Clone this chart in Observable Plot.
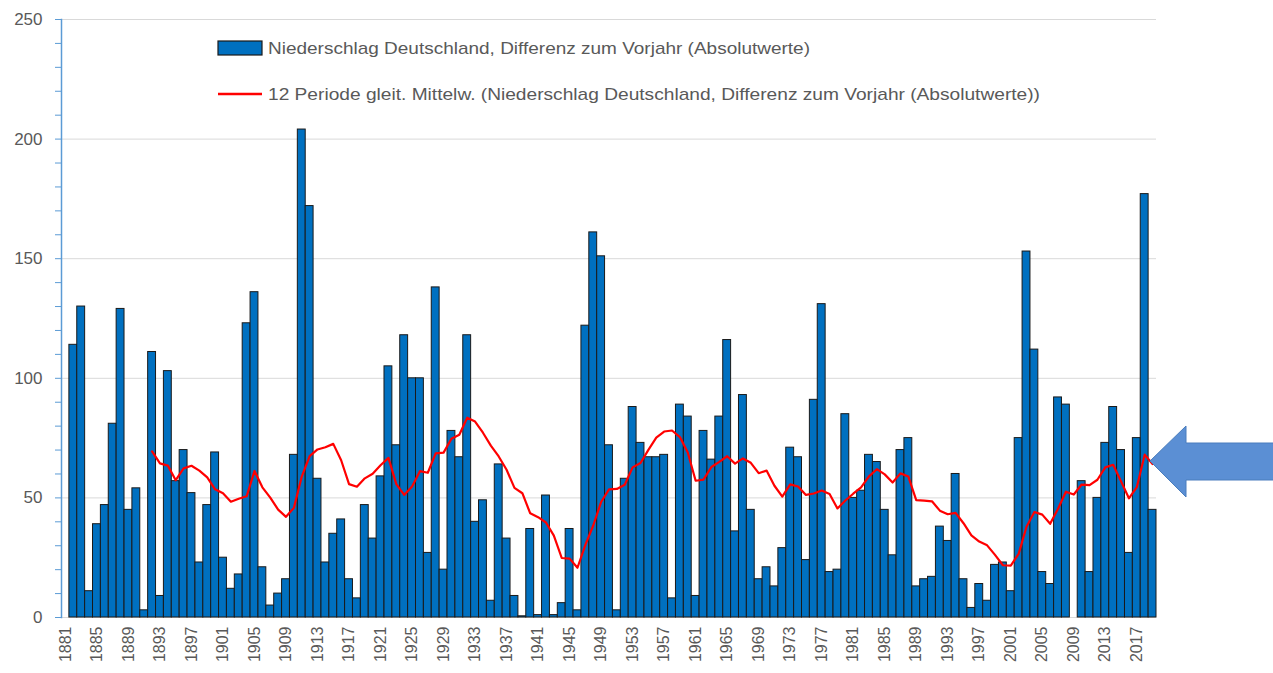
<!DOCTYPE html>
<html>
<head>
<meta charset="utf-8">
<script src="https://cdn.jsdelivr.net/npm/d3@7"></script>
<script src="https://cdn.jsdelivr.net/npm/@observablehq/plot@0.6"></script>
<style>
  html, body { margin: 0; padding: 0; background: #fff; }
  #wrap { position: relative; width: 1273px; height: 673px; overflow: hidden; }
  #overlay { position: absolute; left: 0; top: 0; pointer-events: none; }
</style>
</head>
<body>
<div id="wrap"></div>
<script>
// ---- data ----
const years = d3.range(1881, 2020);
// Niederschlag Deutschland, Differenz zum Vorjahr (Absolutwerte); 1881 has no previous year
const diffs = [null,
  114, 130, 11, 39, 47, 81, 129, 45, 54, 3,
  111, 9, 103, 57, 70, 52, 23, 47, 69, 25,
  12, 18, 123, 136, 21, 5, 10, 16, 68, 204,
  172, 58, 23, 35, 41, 16, 8, 47, 33, 59,
  105, 72, 118, 100, 100, 27, 138, 20, 78, 67,
  118, 40, 49, 7, 64, 33, 9, 0.5, 37, 1,
  51, 1, 6, 37, 3, 122, 161, 151, 72, 3,
  58, 88, 73, 67, 67, 68, 8, 89, 84, 9,
  78, 66, 84, 116, 36, 93, 45, 16, 21, 13,
  29, 71, 67, 24, 91, 131, 19, 20, 85, 50,
  53, 68, 65, 45, 26, 70, 75, 13, 16, 17,
  38, 32, 60, 16, 4, 14, 7, 22, 23, 11,
  75, 153, 112, 19, 14, 92, 89, 0, 57, 19,
  50, 73, 88, 70, 27, 75, 177, 45];
const maPeriod = 12;
const xTickYears = years.filter(y => (y - 1881) % 4 === 0);
const yGridTicks = [0, 50, 100, 150, 200, 250];
const yMinorTicks = d3.range(0, 251, 10);
const legendBars = "Niederschlag Deutschland, Differenz zum Vorjahr (Absolutwerte)";
const legendLine = "12 Periode gleit. Mittelw. (Niederschlag Deutschland, Differenz zum Vorjahr (Absolutwerte))";

// ---- derived table ----
const rows = years.map((year, i) => ({year, value: diffs[i]}));
const maRows = years.map((year, i) => ({
  year,
  ma: i < maPeriod - 1 ? null : d3.mean(diffs.slice(i - maPeriod + 1, i + 1))
})).filter(d => d.ma != null);

const chart = Plot.plot({
  width: 1273,
  height: 673,
  marginLeft: 61,
  marginRight: 117,
  marginTop: 19,
  marginBottom: 56,
  style: {fontFamily: "'Liberation Sans', Arial, sans-serif", background: "#fff"},
  x: {type: "band", domain: years, padding: 0},
  y: {domain: [0, 250]},
  marks: [
    Plot.gridY(yGridTicks, {stroke: "#d9d9d9", strokeOpacity: 1, strokeWidth: 1}),
    Plot.barY(rows.filter(d => d.value != null), {
      x: "year", y: "value", fill: "#0070C0", stroke: "#1a1a1a", strokeWidth: 1
    }),
    Plot.lineY(maRows, {x: "year", y: "ma", stroke: "#ff0000", strokeWidth: 2.2}),
    Plot.frame({anchor: "left", stroke: "#5B9BD5", strokeWidth: 1.5}),
    Plot.axisY({ticks: yMinorTicks, tickSize: 6, stroke: "#5B9BD5", tickFormat: () => "", label: null}),
    Plot.axisY({ticks: yGridTicks, tickSize: 0, tickPadding: 19, fontSize: 17, fill: "#595959", label: null}),
    Plot.axisX({ticks: xTickYears, tickFormat: d => String(d), tickSize: 0, tickPadding: 9, tickRotate: -90, fontSize: 16, fill: "#595959", label: null})
  ]
});
document.getElementById("wrap").appendChild(chart);

// ---- legend + arrow annotation overlay ----
const ns = "http://www.w3.org/2000/svg";
const ov = document.createElementNS(ns, "svg");
ov.setAttribute("id", "overlay");
ov.setAttribute("width", 1273);
ov.setAttribute("height", 673);
ov.innerHTML = `
  <rect x="218" y="41" width="44" height="14" fill="#0070C0" stroke="#1a1a1a" stroke-width="1.2"/>
  <text x="268" y="48" dominant-baseline="central" font-family="'Liberation Sans Narrow', 'Liberation Sans', sans-serif" font-size="17" fill="#595959" textLength="542" lengthAdjust="spacingAndGlyphs">${legendBars}</text>
  <line x1="218" x2="262" y1="94" y2="94" stroke="#ff0000" stroke-width="2.5"/>
  <text x="268" y="94" dominant-baseline="central" font-family="'Liberation Sans Narrow', 'Liberation Sans', sans-serif" font-size="17" fill="#595959" textLength="772" lengthAdjust="spacingAndGlyphs">${legendLine}</text>
  <polygon points="1150,461 1186,426 1186,443 1274,443 1274,480 1186,480 1186,497" fill="#5B8FD4" stroke="#4A7DBD" stroke-width="1"/>
`;
document.getElementById("wrap").appendChild(ov);
</script>
</body>
</html>
